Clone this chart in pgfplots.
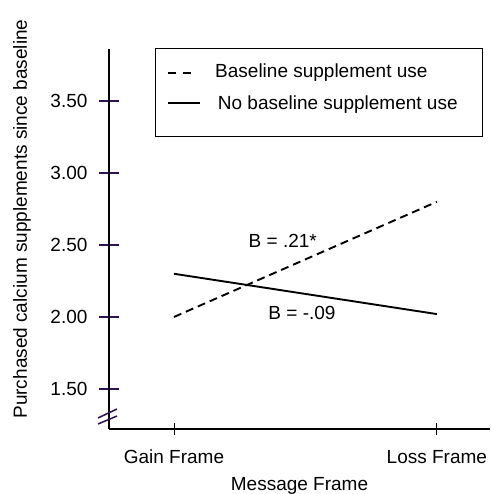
\documentclass[border=0pt]{standalone}
\usepackage{pgfplots}
\pgfplotsset{compat=1.18}
\usepackage{fontspec}
\setmainfont{Liberation Sans}
\definecolor{tickpurple}{HTML}{2E0F50}
\begin{document}
\fontsize{19bp}{22bp}\selectfont
\begin{tikzpicture}[x=1bp,y=1bp]
\useasboundingbox (-109,-65) rectangle (383,429);
\begin{axis}[
    at={(0,0)}, anchor=south west,
    scale only axis,
    width=381bp, height=380bp,
    xmin=-0.247, xmax=1.202,
    ymin=1.222, ymax=3.861,
    axis x line=bottom, axis y line=left,
    axis line style={line width=1.8bp, -},
    xtick={0,1}, xticklabels={Gain Frame, Loss Frame},
    ytick={1.5,2,2.5,3,3.5},
    tick align=center,
    major tick length=20bp,
    y tick style={tickpurple, line width=1.5bp},
    x tick style={black, line width=0.8bp, /pgfplots/major tick length=12bp},
    /pgf/number format/fixed, /pgf/number format/fixed zerofill,
    /pgf/number format/precision=2, /pgf/number format/assume math mode=true,
    yticklabel style={anchor=east, xshift=-5bp},
    xticklabel style={anchor=base, yshift=-24bp},
    clip=false,
]
\addplot[black, line width=1.9bp, dash pattern=on 8bp off 5bp] coordinates {(0,2.00) (1,2.80)};
\addplot[black, line width=1.9bp] coordinates {(0,2.30) (1,2.02)};
\node at (axis cs:0.414,2.528) {B = .21*};
\node at (axis cs:0.487,2.028) {B = -.09};
\end{axis}
% axis break
\draw[tickpurple, line width=1.5bp] (-11,11) -- (8,20);
\draw[tickpurple, line width=1.5bp] (-11,5) -- (8,13);
% legend
\draw[line width=1.5bp] (46.7,380.7) rectangle (373.7,292.3);
\draw[line width=1.9bp, dash pattern=on 8bp off 7bp] (58.7,355.7) -- (82.7,355.7);
\draw[line width=1.9bp] (58.7,326.3) -- (91,326.3);
\node[anchor=base west, inner sep=0] at (106,351.7) {Baseline supplement use};
\node[anchor=base west, inner sep=0] at (108.7,319.7) {No baseline supplement use};
% axis titles
\node[rotate=90, anchor=base, inner sep=0] at (-82,210) {Purchased calcium supplements since baseline};
\node[anchor=base, inner sep=0] at (190.5,-61) {Message Frame};
\end{tikzpicture}
\end{document}
